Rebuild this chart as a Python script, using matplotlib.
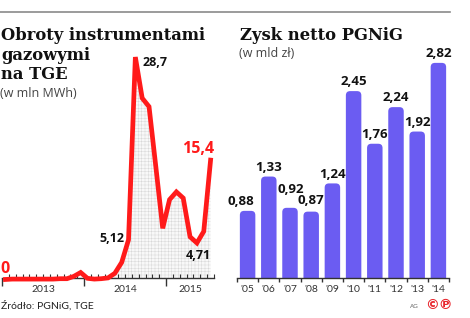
import matplotlib
matplotlib.use("Agg")
import matplotlib.pyplot as plt
from matplotlib.lines import Line2D
from matplotlib.patches import FancyBboxPatch

# monthly gas turnover on TGE, Jan 2013 .. Jul 2015 (mln MWh)
months = list(range(31))
turnover = [0.0, 0.05, 0.05, 0.05, 0.05, 0.05, 0.05, 0.05, 0.1, 0.1,
            0.4, 0.9, 0.15, 0.05, 0.1, 0.2, 0.8, 2.2, 5.12, 28.7,
            23.4, 22.3, 14.5, 6.6, 10.3, 11.3, 10.5, 5.5, 4.71, 6.2, 15.4]
year_labels = ["2013", "2014", "2015"]
year_centers = [6, 18, 27.5]

# PGNiG net profit (bln zl)
years = ["'05", "'06", "'07", "'08", "'09", "'10", "'11", "'12", "'13", "'14"]
profit = [0.88, 1.33, 0.92, 0.87, 1.24, 2.45, 1.76, 2.24, 1.92, 2.82]

W, H = 470, 318
RED = "#ff1a1a"
PURPLE = "#6b5cf2"
DARK = "#333333"
SANS = ["Lato", "DejaVu Sans"]
WIDE = ["Open Sans", "DejaVu Sans"]
SERIF = ["DejaVu Serif"]

plt.rcParams["hatch.linewidth"] = 0.3
plt.rcParams["font.family"] = SANS


def px_axes(fig, x0, y0, x1, y1):
    return fig.add_axes([x0 / W, 1 - y1 / H, (x1 - x0) / W, (y1 - y0) / H])


def ftext(fig, x, y, s, **kw):
    fig.text(x / W, 1 - y / H, s, **kw)


fig = plt.figure(figsize=(W / 100, H / 100), dpi=100)

# ---- left: line chart
ax = px_axes(fig, 2, 40, 214, 278)
xs = [m + 0.5 for m in months]
ax.fill_between(xs[15:], turnover[15:], 0, facecolor="#f8f8f8",
                edgecolor="#d2d2d2", hatch="+++++", linewidth=0)
ax.plot(xs, turnover, color=RED, lw=3.4, clip_on=False, zorder=3,
        solid_joinstyle="miter")
ax.set_xlim(0, 31)
ax.set_ylim(0.19, 30.9)
for s in ["top", "left", "right"]:
    ax.spines[s].set_visible(False)
ax.spines["bottom"].set_color(DARK)
ax.spines["bottom"].set_linewidth(1)
ax.set_yticks([])
ax.set_xticks([0, 12, 24])
ax.set_xticks([m for m in range(1, 32) if m % 12], minor=True)
ax.tick_params(axis="x", which="major", direction="out", length=6,
               color=DARK, width=1, labelbottom=False)
ax.tick_params(axis="x", which="minor", direction="in", length=3,
               color=DARK, width=0.8)
for lab, c in zip(year_labels, year_centers):
    ax.annotate(lab, (c, 0), xycoords=("data", "axes fraction"),
                xytext=(0, -8.5), textcoords="offset points",
                ha="center", va="center", fontsize=7.5, color=DARK)

def point_label(i, s, dx, dy, ha, va, color="#111111", size=9):
    ax.annotate(s, (xs[i], turnover[i]), xytext=(dx, dy),
                textcoords="offset points", ha=ha, va=va, color=color,
                fontsize=size, fontweight="bold", family=WIDE,
                annotation_clip=False)

point_label(0, "0", 0, 2, "center", "bottom", RED, 11.5)
point_label(18, "5,12", -3, 1, "right", "center")
point_label(19, "28,7", 5, -4, "left", "center")
point_label(28, "4,71", 1, -4, "center", "top")
point_label(30, "15,4", -9, 2, "center", "bottom", RED, 11.5)

# ---- right: bar chart
bx = px_axes(fig, 237, 40, 449, 278)
bx.set_xlim(-0.5, 9.5)
bx.set_ylim(0, 3.12)
bw = 0.73
asp = (1 / 76.2) / (1 / 21.2)
# hand-placed label nudges (points), as in the original layout
nudge = {0: (-4.5, 2), 2: (0.5, 8.5), 3: (-0.5, 3)}
for i, v in enumerate(profit):
    bx.add_patch(FancyBboxPatch((i - bw / 2, -0.2), bw, v + 0.2,
                                boxstyle="round,pad=0,rounding_size=0.2",
                                mutation_aspect=asp, fc=PURPLE, ec="none"))
    bx.annotate(f"{v:.2f}".replace(".", ","), (i, v),
                xytext=nudge.get(i, (0, 2)), textcoords="offset points",
                ha="center", va="bottom", fontsize=9.5, fontweight="bold",
                color="#111111", family=WIDE, annotation_clip=False)
for s in ["top", "left", "right"]:
    bx.spines[s].set_visible(False)
bx.spines["bottom"].set_color(DARK)
bx.spines["bottom"].set_linewidth(1)
bx.set_yticks([])
bx.set_xticks([i - 0.5 for i in range(11)])
bx.set_xticks(range(10), years, minor=True)
bx.tick_params(axis="x", which="major", direction="out", length=3,
               color=DARK, width=1, labelbottom=False)
bx.tick_params(axis="x", which="minor", length=0, pad=5,
               labelsize=7.5, labelcolor=DARK)

# ---- texts and decorations
fig.add_artist(Line2D([0, 450 / W], [1 - 12 / H] * 2, color="#8a8a8a", lw=1.2))
for y, s in [(40, "Obroty instrumentami"), (59.5, "gazowymi"), (79, "na TGE")]:
    ftext(fig, 1, y, s, family=SERIF, fontweight="bold", fontsize=11.8,
          va="baseline", color="#111111")
ftext(fig, 0, 97, "(w mln MWh)", family=WIDE, fontsize=9, color="#444444",
      va="baseline")
ftext(fig, 240, 40, "Zysk netto PGNiG", family=SERIF, fontweight="bold",
      fontsize=11.8, va="baseline", color="#111111")
ftext(fig, 239, 57, "(w mld zł)", family=WIDE, fontsize=9, color="#444444",
      va="baseline")
ftext(fig, 1, 306, "Źródło: PGNiG, TGE", fontsize=7.5, color="#222222",
      va="center")
ftext(fig, 414, 306, "AG", fontsize=4.5, color="#666666", va="center",
      ha="center")
ftext(fig, 439, 305, "©℗", family=["DejaVu Sans"], fontsize=10,
      color="#e8262d", va="center", ha="center", fontweight="bold")

fig.savefig("out.png", dpi=100)
